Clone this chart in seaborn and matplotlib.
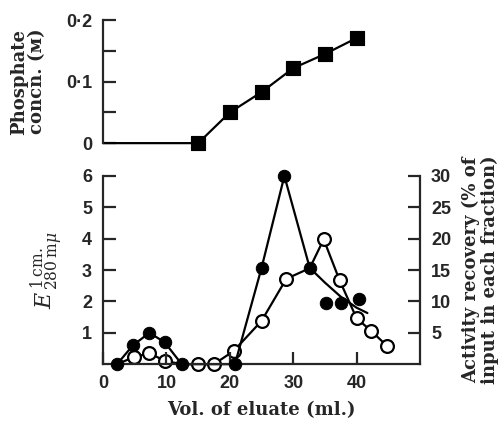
import matplotlib
matplotlib.use("Agg")
import matplotlib.pyplot as plt
import seaborn as sns

# top panel: phosphate gradient
phos_vol = [0, 15, 20, 25, 30, 35, 40]
phos_conc = [0, 0, 0.05, 0.083, 0.122, 0.145, 0.171]

# filled circles: E280 (left axis)
e_vol = [2.2, 4.7, 7.3, 9.7, 12.4, 20.8, 25, 28.6, 32.6, 35.1, 37.6, 40.3]
e_val = [0, 0.6, 1.0, 0.7, 0, 0, 3.07, 6.0, 3.07, 1.95, 1.95, 2.08]
# drawn curve through the E280 points (smoothed at the tail)
e_line_vol = [2.2, 4.7, 7.3, 9.7, 12.4, 20.8, 25, 28.6, 32.6, 35, 37.5, 40, 41.7]
e_line_val = [0, 0.6, 1.0, 0.7, 0, 0, 3.07, 6.0, 3.07, 2.6, 2.15, 1.8, 1.63]

# open circles: activity recovery % (right axis)
act_vol = [4.8, 7.3, 9.8, 15, 17.5, 20.6, 25, 28.9, 34.8, 37.3, 40, 42.3, 44.8]
act_val = [1.1, 1.75, 0.5, 0, 0, 2.1, 6.9, 13.6, 19.9, 13.4, 7.3, 5.3, 2.9]
act_line_vol = [2.2, 4.8, 7.3, 9.8, 12.4, 15, 17.5, 20.6, 25, 28.9, 32.6, 34.8, 37.3, 40, 42.3, 44.8]
act_line_val = [0, 1.1, 1.75, 0.5, 0, 0, 0, 2.1, 6.9, 13.6, 15.3, 19.9, 13.4, 7.3, 5.3, 2.9]

sns.set_style("ticks")
plt.rcParams['font.family'] = ['Liberation Sans', 'DejaVu Sans']
plt.rcParams['mathtext.fontset'] = 'dejavuserif'

serif = ['DejaVu Serif', 'DejaVu Sans']
tickfont = dict(fontsize=13, fontweight='bold')
lw = 1.6

fig = plt.figure(figsize=(5.03, 4.21), dpi=100)
ax_top = fig.add_axes([0.205, 0.660, 0.63, 0.292])
ax = fig.add_axes([0.205, 0.135, 0.63, 0.447])
ax2 = ax.twinx()

# ---- top panel
sns.lineplot(x=phos_vol, y=phos_conc, ax=ax_top, color='black', lw=lw,
             sort=False, estimator=None, clip_on=False)
sns.scatterplot(x=phos_vol[1:], y=phos_conc[1:], ax=ax_top, marker='s', s=105,
                color='black', edgecolor='black', clip_on=False, zorder=3)
ax_top.set_xlim(0, 50)
ax_top.set_ylim(0, 0.2)
ax_top.set_yticks([0, 0.1, 0.2])
ax_top.set_yticklabels(['0', '0·1', '0·2'], **tickfont)
ax_top.set_yticks([0.05, 0.15], minor=True)
ax_top.set_xticks([])
for s in ['top', 'right', 'bottom']:
    ax_top.spines[s].set_visible(False)
ax_top.spines['left'].set_linewidth(lw)
ax_top.tick_params(axis='y', which='both', direction='in', length=9, width=lw, pad=8)
ax_top.set_ylabel('Phosphate\nconcn. (ᴍ)', family=serif, fontsize=13,
                  fontweight='bold', labelpad=14, linespacing=1.0)

# ---- bottom panel
sns.lineplot(x=act_line_vol, y=act_line_val, ax=ax2, color='black', lw=lw,
             sort=False, estimator=None, clip_on=False)
sns.scatterplot(x=act_vol, y=act_val, ax=ax2, marker='o', s=85, color='white',
                edgecolor='black', linewidth=1.6, clip_on=False, zorder=3)
sns.lineplot(x=e_line_vol, y=e_line_val, ax=ax, color='black', lw=lw,
             sort=False, estimator=None, clip_on=False)
sns.scatterplot(x=e_vol, y=e_val, ax=ax, marker='o', s=80, color='black',
                edgecolor='black', clip_on=False, zorder=3)
ax.set_zorder(ax2.get_zorder() + 1)
ax.patch.set_visible(False)

ax.set_xlim(0, 50)
ax.set_ylim(0, 6)
ax2.set_ylim(0, 30)
ax.set_xticks([0, 10, 20, 30, 40])
ax.set_xticklabels(['0', '10', '20', '30', '40'], **tickfont)
ax.set_yticks([1, 2, 3, 4, 5, 6])
ax.set_yticklabels(['1', '2', '3', '4', '5', '6'], **tickfont)
ax2.set_yticks([5, 10, 15, 20, 25, 30])
ax2.set_yticklabels(['5', '10', '15', '20', '25', '30'], **tickfont)
ax.tick_params(axis='both', direction='in', length=9, width=lw, pad=8)
ax2.tick_params(axis='y', direction='in', length=9, width=lw, pad=8)
for a in (ax, ax2):
    a.spines['top'].set_visible(False)
    for s in ['left', 'right', 'bottom']:
        a.spines[s].set_linewidth(lw)
ax.spines['right'].set_visible(False)
ax2.spines['left'].set_visible(False)
ax2.spines['bottom'].set_visible(False)

ax.set_xlabel('Vol. of eluate (ml.)', family=serif, fontsize=13,
              fontweight='bold', labelpad=6)
ax.set_ylabel(r'$E^{\,1\,\mathrm{cm.}}_{\,280\,\mathrm{m}\mu}$', fontsize=16,
              labelpad=12)
ax2.set_ylabel('Activity recovery (% of\ninput in each fraction)', family=serif,
               fontsize=13, fontweight='bold', labelpad=8, linespacing=1.0)

fig.savefig('out.png', dpi=100)
